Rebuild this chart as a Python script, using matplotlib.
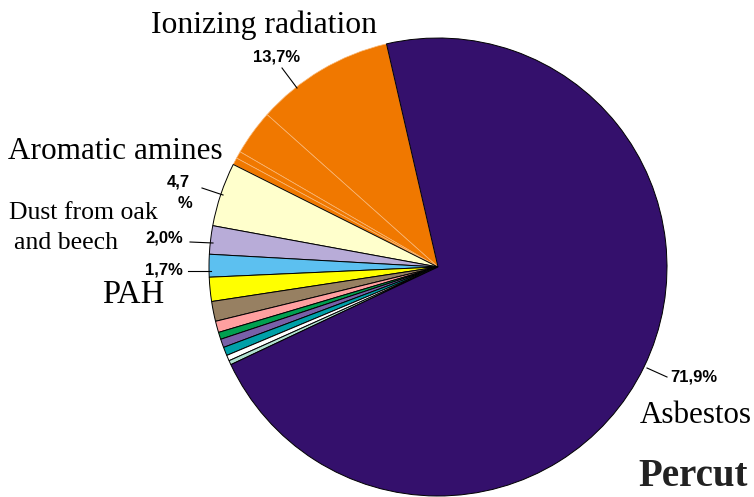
import matplotlib.pyplot as plt

# shares in %, counter-clockwise starting at the top edge of the asbestos slice
shares = [9.8, 3.2, 0.5, 0.5, 4.5, 2.0, 1.6, 1.7, 1.4, 0.8, 0.5, 0.6, 0.6, 0.4, 0.3, 71.6]
colors = ["#f07800", "#f07800", "#f07800", "#f07800", "#ffffcc", "#b8acd8",
          "#5cc0f0", "#ffff00", "#978062", "#ffa0a0", "#00a050", "#7860a8",
          "#00a0a8", "#ffffff", "#b0e0d0", "#34106c"]

names = ["Ionizing radiation", "Aromatic amines", "Dust from oak", "and beech", "PAH", "Asbestos"]
pct_labels = ["13,7%", "4,7", "%", "2,0%", "1,7%", "71,9%"]

serif = "Liberation Serif"
sans = "Liberation Sans"

fig = plt.figure(figsize=(7.54, 4.97), dpi=100)
ax = fig.add_axes([0, 0, 1, 1])

# pixel coordinates, y pointing down -> angles run the other way
wedges, _ = ax.pie(shares, colors=colors, center=(438, 267), radius=229,
                   startangle=-103, counterclock=False,
                   wedgeprops=dict(edgecolor="black", linewidth=0.7))
for w in wedges[:4]:
    w.set_edgecolor("#f9b878")
    w.set_linewidth(0.5)

ax.set_xlim(0, 754)
ax.set_ylim(497, 0)
ax.set_aspect("equal")
ax.axis("off")

# category names
ax.text(264, 33, names[0], family=serif, fontsize=22.8, ha="center", va="baseline")
ax.text(115, 159, names[1], family=serif, fontsize=22.5, ha="center", va="baseline")
ax.text(83, 219, names[2], family=serif, fontsize=18.5, ha="center", va="baseline")
ax.text(66, 249, names[3], family=serif, fontsize=18.5, ha="center", va="baseline")
ax.text(133, 303, names[4], family=serif, fontsize=23.5, ha="center", va="baseline")
ax.text(640, 423, names[5], family=serif, fontsize=22.3, ha="left", va="baseline")
ax.text(638, 495.5, "Percut", family=serif, fontsize=28, fontweight="bold",
        color="#222222", ha="left", va="bottom")

# percentage labels and leader lines
kw = dict(family=sans, fontsize=12, fontweight="bold", va="center")
ax.text(277, 57, pct_labels[0], ha="center", **kw)
ax.text(178, 182, pct_labels[1], ha="center", **kw)
ax.text(185, 203, pct_labels[2], ha="center", **kw)
ax.text(164, 238, pct_labels[3], ha="center", **kw)
ax.text(164, 270, pct_labels[4], ha="center", **kw)
ax.text(694, 377, pct_labels[5], ha="center", **kw)

leaders = [((282, 68), (297, 88)),
           ((202, 188), (223, 195)),
           ((190, 242), (213, 243)),
           ((188, 271), (211, 271)),
           ((647, 368), (667, 377))]
for (x0, y0), (x1, y1) in leaders:
    ax.plot([x0, x1], [y0, y1], color="black", lw=0.8)

fig.savefig("out.png", dpi=100)
